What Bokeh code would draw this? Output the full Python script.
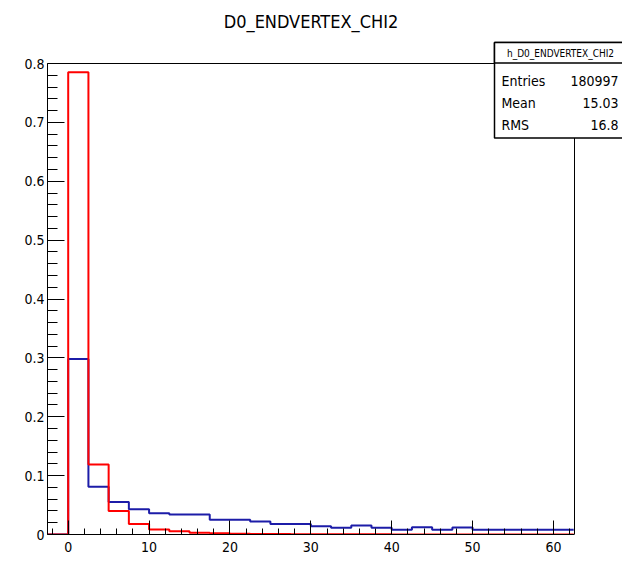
from bokeh.plotting import figure
from bokeh.models import FixedTicker, CustomJSTickFormatter, Label, BoxAnnotation, Range1d
from bokeh.embed import file_html
from bokeh.resources import INLINE

# ---- data -------------------------------------------------------------
bin_edges = [-2.5, 0.0, 2.5, 5.0, 7.5, 10.0, 12.5, 15.0, 17.5, 20.0, 22.5, 25.0, 27.5,
             30.0, 32.5, 35.0, 37.5, 40.0, 42.5, 45.0, 47.5, 50.0, 52.5, 55.0, 57.5,
             60.0, 62.5]

# red histogram (normalised)
red_values = [0.0, 0.785, 0.119, 0.040, 0.018, 0.0085, 0.0056, 0.003, 0.002, 0.0012,
              0.001, 0.0008, 0.0006, 0.0005, 0.0004, 0.0003, 0.0003, 0.0002, 0.0002,
              0.0002, 0.0001, 0.0001, 0.0001, 0.0001, 0.0001, 0.0001]

# blue histogram (normalised)
blue_values = [0.0, 0.298, 0.081, 0.055, 0.043, 0.036, 0.034, 0.034, 0.025, 0.025,
               0.022, 0.018, 0.018, 0.014, 0.0114, 0.0153, 0.0114, 0.008, 0.0125,
               0.008, 0.0118, 0.008, 0.008, 0.008, 0.008, 0.008]

x_major = [0, 10, 20, 30, 40, 50, 60]
x_minor = [-2, 0, 2, 4, 6, 8, 10, 12, 14, 16, 18, 20, 22, 24, 26, 28, 30, 32, 34, 36,
           38, 40, 42, 44, 46, 48, 50, 52, 54, 56, 58, 60, 62]
y_major = [0.0, 0.1, 0.2, 0.3, 0.4, 0.5, 0.6, 0.7, 0.8]
y_minor = [0.0, 0.02, 0.04, 0.06, 0.08, 0.1, 0.12, 0.14, 0.16, 0.18, 0.2, 0.22, 0.24,
           0.26, 0.28, 0.3, 0.32, 0.34, 0.36, 0.38, 0.4, 0.42, 0.44, 0.46, 0.48, 0.5,
           0.52, 0.54, 0.56, 0.58, 0.6, 0.62, 0.64, 0.66, 0.68, 0.7, 0.72, 0.74, 0.76,
           0.78, 0.8]

title_text = "D0_ENDVERTEX_CHI2"
stats_name = "h_D0_ENDVERTEX_CHI2"
stats_rows = ["Entries", "Mean", "RMS"]
stats_vals = ["180997", "15.03", "16.8"]

FONT = "DejaVu Sans Condensed"

# ---- geometry (pixels) ------------------------------------------------
W, H = 622, 561
FL, FB = 47, 534          # frame left / bottom on canvas
AX_R, AX_T = 574, 63      # where the axes box ends (right / top) on canvas
X0, X1 = -2.56, 62.6      # axes x limits
Y0, Y1 = 0.0, 0.8         # axes y limits
# the frame is extended to the canvas edges so the title and stats box can sit inside it
xs = (AX_R - FL) / (X1 - X0)
ys = (FB - AX_T) / (Y1 - Y0)
x_end = X1 + (W - AX_R) / xs
y_end = Y1 + AX_T / ys

p = figure(width=W, height=H, output_backend="svg", toolbar_location=None,
           x_range=Range1d(X0, x_end), y_range=Range1d(Y0, y_end),
           min_border_left=FL, min_border_right=0, min_border_top=0,
           min_border_bottom=H - FB)

p.background_fill_color = "white"
p.border_fill_color = "white"
p.outline_line_color = None
p.xgrid.visible = False
p.ygrid.visible = False

for ax in (p.xaxis[0], p.yaxis[0]):
    ax.axis_line_color = "black"
    ax.axis_line_width = 1
    ax.major_tick_line_color = "black"
    ax.minor_tick_line_color = "black"
    ax.major_tick_line_width = 1
    ax.minor_tick_line_width = 1
    ax.major_tick_out = 0
    ax.minor_tick_out = 0
    ax.major_label_text_font = FONT
    ax.major_label_text_font_size = "14px"
    ax.major_label_text_color = "#000000"

p.xaxis.bounds = (X0, X1)
p.xaxis.ticker = FixedTicker(ticks=x_major, minor_ticks=x_minor)
p.xaxis.major_tick_in = 14
p.xaxis.minor_tick_in = 6
p.xaxis.major_label_standoff = 7

p.yaxis.bounds = (Y0, Y1)
p.yaxis.ticker = FixedTicker(ticks=y_major, minor_ticks=y_minor)
p.yaxis.major_tick_in = 17
p.yaxis.minor_tick_in = 10
p.yaxis.major_label_standoff = 3
p.yaxis.formatter = CustomJSTickFormatter(code="return String(Number(tick.toFixed(2)));")

# top and right sides of the axes box
p.segment(x0=[X0, X1], y0=[Y1, Y0], x1=[X1, X1], y1=[Y1, Y1],
          line_color="black", line_width=1)

# ---- histograms -------------------------------------------------------
p.step(x=bin_edges, y=blue_values + [blue_values[-1]], mode="after",
       line_color="#1c1ca8", line_width=2)
p.step(x=bin_edges, y=red_values + [red_values[-1]], mode="after",
       line_color="#ff0000", line_width=2)

# ---- title ------------------------------------------------------------
p.add_layout(Label(x=(FL + AX_R) / 2 - FL, y=FB - 21, x_units="screen", y_units="screen",
                   text=title_text, text_font=FONT, text_font_size="18px",
                   text_align="center", text_baseline="middle", text_color="#000000"))

# ---- stats box (screen units are relative to frame bottom-left) --------
box_l, box_r, box_t, box_div, box_b = 494, 630, 42, 62.5, 137.5
for top, bottom in ((box_t, box_b), (box_t, box_div)):
    p.add_layout(BoxAnnotation(left=box_l - FL, right=box_r - FL, top=FB - top, bottom=FB - bottom,
                               left_units="screen", right_units="screen",
                               top_units="screen", bottom_units="screen",
                               fill_color="white", fill_alpha=1.0,
                               line_color="black", line_width=1.5, line_alpha=1.0))

p.add_layout(Label(x=560 - FL, y=FB - 52.5, x_units="screen", y_units="screen",
                   text=stats_name, text_font=FONT, text_font_size="10px",
                   text_align="center", text_baseline="middle", text_color="#000000"))

row_y = [80, 102, 124.5]
for name, val, yy in zip(stats_rows, stats_vals, row_y):
    p.add_layout(Label(x=501 - FL, y=FB - yy, x_units="screen", y_units="screen",
                       text=name, text_font=FONT, text_font_size="14px",
                       text_align="left", text_baseline="middle", text_color="#000000"))
    p.add_layout(Label(x=618 - FL, y=FB - yy, x_units="screen", y_units="screen",
                       text=val, text_font=FONT, text_font_size="14px",
                       text_align="right", text_baseline="middle", text_color="#000000"))

open("out.html", "w").write(file_html(p, INLINE))
